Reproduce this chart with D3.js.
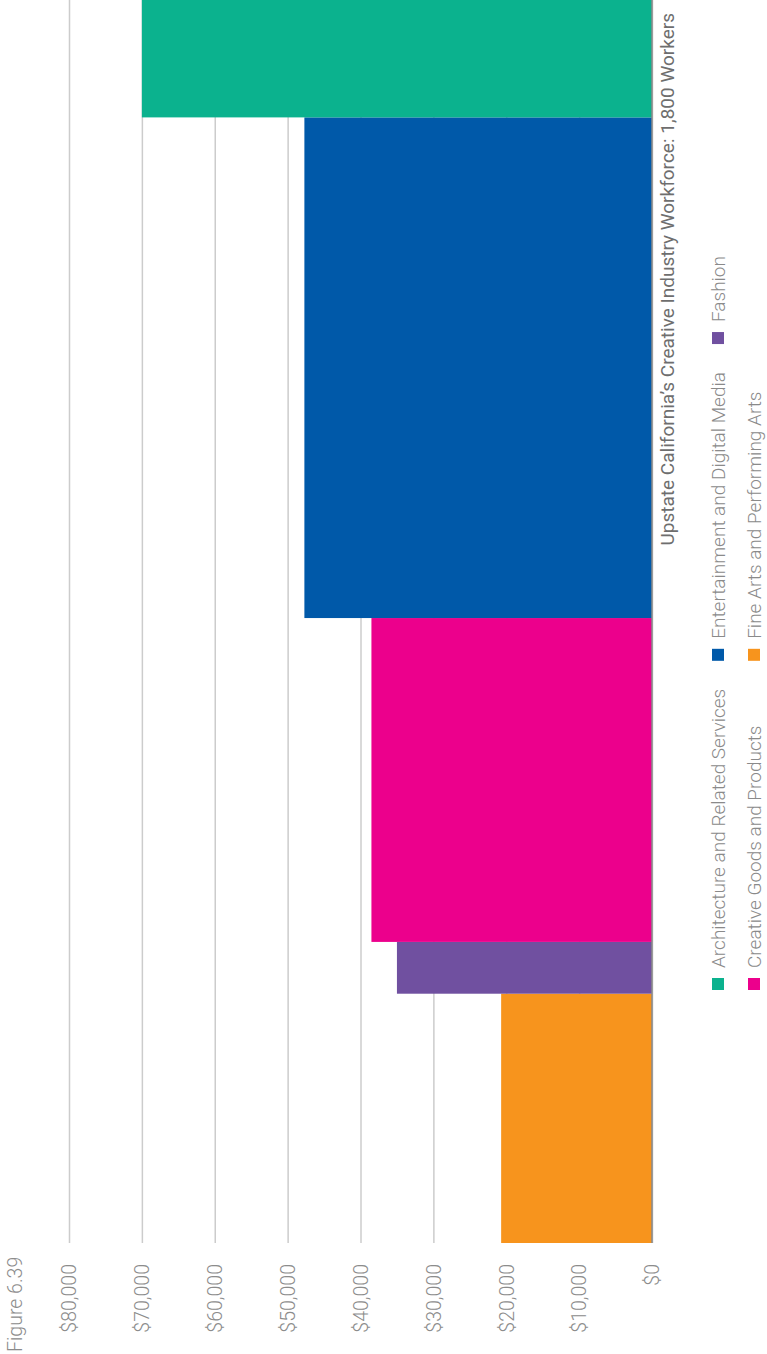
<!DOCTYPE html>
<html><head><meta charset="utf-8">
<script src="https://cdn.jsdelivr.net/npm/d3@7"></script>
<style>body{margin:0;background:#fff}svg{display:block}text{font-family:Roboto,"Noto Sans",sans-serif}</style>
</head><body>
<script>
// Data (order as drawn, left to right in the unrotated chart)
const categories = ["Fine Arts and Performing Arts","Fashion","Creative Goods and Products","Entertainment and Digital Media","Architecture and Related Services"];
const workers = [361, 75, 469, 725, 170];
const wages = [20700, 35000, 38500, 47700, 70000];
const colors = ["#F7941D","#7050A0","#EC008C","#0059A9","#0BB28E"];
const tickValues = [0,10000,20000,30000,40000,50000,60000,70000,80000];
const legendOrder = ["Architecture and Related Services","Entertainment and Digital Media","Fashion","Creative Goods and Products","Fine Arts and Performing Arts"];
const figureLabel = "Figure 6.39";
const title = "Upstate California\u2019s Creative Industry Workforce: 1,800 Workers";

const W = 1354, H = 767; // unrotated frame
const svg = d3.select("body").append("svg").attr("width", 767).attr("height", 1354);
const g = svg.append("g").attr("transform", `translate(0,${W}) rotate(-90)`);

const total = d3.sum(workers);
const x = d3.scaleLinear().domain([0, total]).range([111, 1354]);
const y = d3.scaleLinear().domain([0, 80000]).range([652, 69]);

// gridlines
const grid = g.append("g").attr("transform", "translate(111,0)")
  .call(d3.axisLeft(y).tickValues(tickValues).tickSize(-(1354-111)).tickFormat(""));
grid.select(".domain").remove();
grid.selectAll(".tick line").attr("stroke", "#cccccc").attr("stroke-width", 1.5);

// tick labels
const axis = g.append("g").attr("transform", "translate(90,0)")
  .call(d3.axisLeft(y).tickValues(tickValues).tickSize(0).tickPadding(0).tickFormat(d => "$" + d3.format(",")(d)));
axis.select(".domain").remove();
axis.selectAll("text").attr("font-size", 19.5).attr("fill", "#8c8c8c").attr("font-family", "Roboto").attr("font-weight", 300).attr("dy", "0.35em");

// bars
const cum = d3.cumsum(workers);
const starts = workers.map((w, i) => cum[i] - w);
g.append("g").selectAll("rect").data(categories).join("rect")
  .attr("x", (d, i) => x(starts[i]))
  .attr("width", (d, i) => x(cum[i]) - x(starts[i]))
  .attr("y", (d, i) => y(wages[i]))
  .attr("height", (d, i) => y(0) - y(wages[i]))
  .attr("fill", (d, i) => colors[i]);

// baseline
g.append("line").attr("x1", x(0)).attr("x2", x(total)).attr("y1", y(0)).attr("y2", y(0))
  .attr("stroke", "#8a8a8a").attr("stroke-width", 1.5);

// figure label
g.append("text").attr("x", 2).attr("y", 15).attr("dy", "0.35em").text(figureLabel)
  .attr("font-size", 19.5).attr("fill", "#8c8c8c").attr("font-weight", 300);

// title
g.append("text").attr("x", 1341).attr("y", 667).attr("dy", "0.35em").attr("text-anchor", "end")
  .text(title).attr("font-size", 19).attr("fill", "#6e6e6e").attr("font-weight", 400);

// legend: 3 columns, 2 rows
const colorOf = c => colors[categories.indexOf(c)];
const nCols = 3;
const rowY = [718, 754];
const leg = g.append("g");
const items = leg.selectAll("g").data(legendOrder).join("g");
items.append("rect").attr("width", 12).attr("height", 12).attr("y", -6).attr("fill", d => colorOf(d));
items.append("text").attr("x", 22).attr("dy", "0.35em").text(d => d)
  .attr("font-size", 19).attr("fill", "#8a8a8a").attr("font-weight", 300);
// column widths from text length
const colW = [];
items.each(function(d, i) {
  const c = i % nCols;
  const w = 22 + this.querySelector("text").getComputedTextLength();
  colW[c] = Math.max(colW[c] || 0, w);
});
const colX = [364];
for (let c = 1; c < nCols; c++) colX[c] = colX[c-1] + colW[c-1] + 28;
items.attr("transform", (d, i) => `translate(${colX[i % nCols]},${rowY[Math.floor(i / nCols)]})`);
</script>
</body></html>
